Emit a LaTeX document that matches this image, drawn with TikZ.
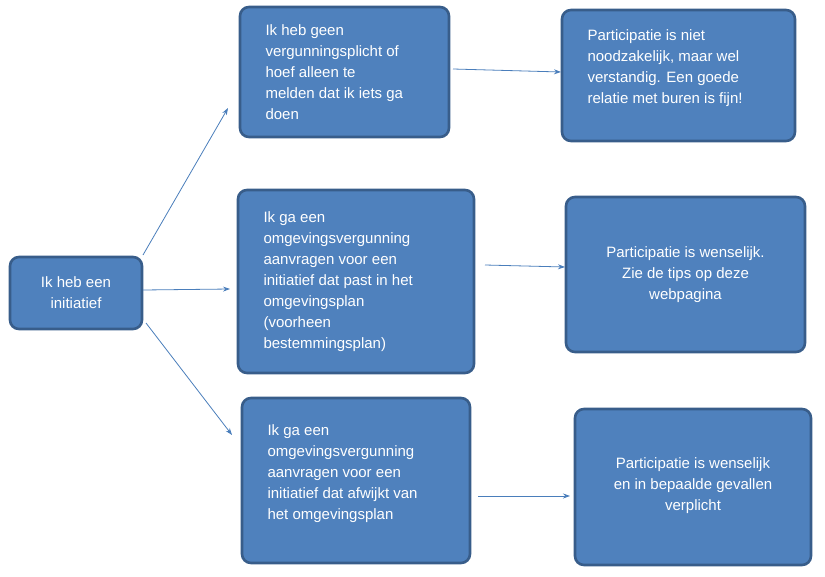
\documentclass[tikz,border=0pt]{standalone}
\usepackage{fontspec}
\setmainfont{Liberation Sans}
\usetikzlibrary{arrows.meta}
\begin{document}
\begin{tikzpicture}[x=1pt,y=-1pt,
  box/.style={draw=boxline,fill=boxfill,line width=2.6pt,rounded corners=9pt,text=white,
    font=\fontsize{15}{21}\selectfont,inner xsep=20pt,inner ysep=4pt},
  conn/.style={draw=arrowc,line width=0.8pt,-{Stealth[length=7pt,width=5pt]}}]
\definecolor{boxfill}{HTML}{4F81BD}
\definecolor{boxline}{HTML}{385D8A}
\definecolor{arrowc}{HTML}{4A7EBB}
\useasboundingbox (0,0) rectangle (825,576);
\newcommand{\bx}[6]{\node[box,minimum width=#4-#2,minimum height=#5-#3,text width=#4-#2-40,#6] (#1) at ({(#2+#4)/2},{(#3+#5)/2}) {};}
\bx{a}{10}{257}{142}{329}{align=center}
\node[text=white,font=\fontsize{15}{21}\selectfont,align=center] at (a) {Ik heb een\\initiatief};
\bx{b1}{240}{7}{449}{137}{}
\node[text=white,font=\fontsize{15}{21}\selectfont,align=left,anchor=west] at (262,72) {Ik heb geen\\vergunningsplicht of\\hoef alleen te\\melden dat ik iets ga\\doen};
\bx{b2}{238}{190}{474}{373}{}
\node[text=white,font=\fontsize{15}{21}\selectfont,align=left,anchor=west] at (260,282) {Ik ga een\\omgevingsvergunning\\aanvragen voor een\\initiatief dat past in het\\omgevingsplan\\(voorheen\\bestemmingsplan)};
\bx{b3}{242}{398}{470}{563}{}
\node[text=white,font=\fontsize{15}{21}\selectfont,align=left,anchor=west] at (264,474) {Ik ga een\\omgevingsvergunning\\aanvragen voor een\\initiatief dat afwijkt van\\het omgevingsplan};
\bx{c1}{562}{10}{795}{141}{}
\node[text=white,font=\fontsize{15}{21}\selectfont,align=left,anchor=west] at (584,68) {Participatie is niet\\noodzakelijk, maar wel\\verstandig. Een goede\\relatie met buren is fijn!};
\bx{c2}{566}{197}{805}{352}{}
\node[text=white,font=\fontsize{15}{21}\selectfont,align=center] at (c2) {Participatie is wenselijk.\\Zie de tips op deze\\webpagina};
\bx{c3}{575}{409}{811}{565}{}
\node[text=white,font=\fontsize{15}{21}\selectfont,align=center] at (693,486) {Participatie is wenselijk\\en in bepaalde gevallen\\verplicht};
\coordinate (a1) at (143,255); \coordinate (t1) at (228,108);
\coordinate (a2) at (143,290); \coordinate (t2) at (230,289);
\coordinate (a3) at (146,323); \coordinate (t3) at (232,435);
\coordinate (s1) at (453,69); \coordinate (e1) at (561,72);
\coordinate (s2) at (485,265); \coordinate (e2) at (565,267);
\coordinate (s3) at (478,496); \coordinate (e3) at (570,496);
\draw[conn] (a1) -- (t1);
\draw[conn] (a2) -- (t2);
\draw[conn] (a3) -- (t3);
\draw[conn] (s1) -- (e1);
\draw[conn] (s2) -- (e2);
\draw[conn] (s3) -- (e3);
\end{tikzpicture}
\end{document}
